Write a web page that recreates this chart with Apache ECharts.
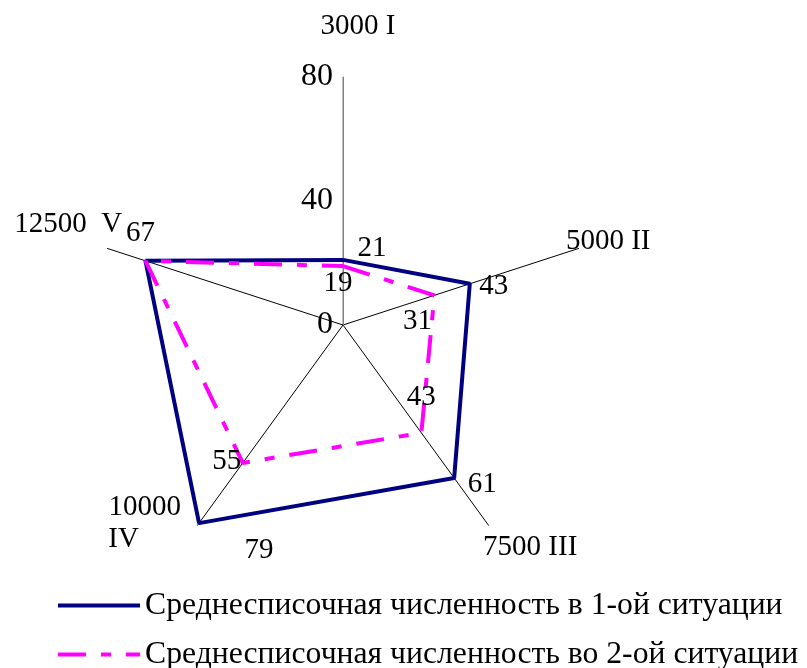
<!DOCTYPE html>
<html>
<head>
<meta charset="utf-8">
<script src="https://cdn.jsdelivr.net/npm/echarts@6/dist/echarts.min.js"></script>
<style>
  html, body { margin: 0; padding: 0; background: #fff; }
  #chart { width: 807px; height: 668px; }
</style>
</head>
<body>
<div id="chart"></div>
<script>
// Radar-like chart drawn on polar coordinates (per-point label placement)
var axisNames = ['3000 I', '5000 II', '7500 III', '10000\nIV', '12500  V'];
var axisAngles = [0, 72, 144, 216, 288];
var radiusTicks = [0, 40, 80];
var seriesNames = [
  'Среднесписочная численность в 1-ой ситуации',
  'Среднесписочная численность во 2-ой ситуации'
];
var situation1 = [21, 43, 61, 79, 67];
var situation2 = [19, 31, 43, 55, 67];

// label offsets from each point (styling only)
var offsets1 = [[29, -12], [24, 3], [28, 6], [60, 27], null];
var offsets2 = [[-5, 17], [-17, 26], [0, -35], [-16, -2], [-5, -27]];

// paddings [top, right, bottom, left] of the axis name lines
var namePads = {
  n0_0: [0, 0, 153, 30],
  n1_0: [0, 0, 39, 27],
  n2_0: [79, 0, 0, 19],
  n3_0: [0, 41, 0, 0],
  n3_1: [0, 83, 0, 0],
  n4_0: [0, 25, 73, 0]
};

var serif = '"Liberation Serif", "Times New Roman", serif';

function buildData(values, offsets) {
  var out = [];
  for (var i = 0; i < values.length; i++) {
    var item = { value: [values[i], axisAngles[i]] };
    if (offsets[i]) {
      item.label = { show: true, offset: offsets[i] };
    } else {
      item.label = { show: false };
    }
    out.push(item);
  }
  // close the polygon back to the first axis
  out.push({ value: [values[0], 360], label: { show: false } });
  return out;
}

var nameRich = {};
Object.keys(namePads).forEach(function (k) {
  nameRich[k] = { padding: namePads[k], lineHeight: 32, fontSize: 29, fontFamily: serif, color: '#000' };
});

var chartDom = document.getElementById('chart');
var myChart = echarts.init(chartDom);
var option;

option = {
  animation: false,
  backgroundColor: '#fff',
  polar: {
    center: [343, 325],
    radius: 248
  },
  angleAxis: {
    type: 'value',
    min: 0,
    max: 360,
    interval: 72,
    startAngle: 90,
    clockwise: true,
    axisLine: { show: false },
    axisTick: { show: false },
    splitLine: {
      show: true,
      lineStyle: { color: ['#808080', '#000', '#000', '#000', '#000', '#808080'], width: 1 }
    },
    axisLabel: {
      color: '#000',
      fontFamily: serif,
      fontSize: 29,
      margin: -42,
      formatter: function (v) {
        var idx = axisAngles.indexOf(v);
        if (idx < 0) return '';
        return axisNames[idx].split('\n').map(function (line, j) {
          return '{n' + idx + '_' + j + '|' + line + '}';
        }).join('\n');
      },
      rich: nameRich
    }
  },
  radiusAxis: {
    type: 'value',
    min: radiusTicks[0],
    max: radiusTicks[radiusTicks.length - 1],
    interval: radiusTicks[1] - radiusTicks[0],
    axisLine: { show: true, lineStyle: { color: '#808080', width: 1 } },
    axisTick: { show: false },
    splitLine: { show: false },
    axisLabel: {
      color: '#000',
      fontFamily: serif,
      fontSize: 32,
      margin: 10
    }
  },
  legend: {
    orient: 'vertical',
    left: 56,
    top: 589,
    height: 90,
    padding: 0,
    itemWidth: 82,
    itemHeight: 14,
    itemGap: 16,
    itemStyle: { opacity: 0 },
    lineStyle: { width: 4 },
    textStyle: {
      color: '#000',
      fontFamily: serif,
      fontSize: 31.7,
      lineHeight: 33
    },
    data: seriesNames
  },
  series: [
    {
      name: seriesNames[0],
      type: 'line',
      coordinateSystem: 'polar',
      symbol: 'circle',
      symbolSize: 1,
      color: '#000080',
      lineStyle: { color: '#000080', width: 4 },
      label: {
        position: 'inside',
        color: '#000',
        fontFamily: serif,
        fontSize: 29,
        formatter: function (p) { return p.value[0]; }
      },
      data: buildData(situation1, offsets1)
    },
    {
      name: seriesNames[1],
      type: 'line',
      coordinateSystem: 'polar',
      symbol: 'circle',
      symbolSize: 1,
      color: '#FF00FF',
      lineStyle: { color: '#FF00FF', width: 4, type: [28, 15, 10, 15] },
      label: {
        position: 'inside',
        color: '#000',
        fontFamily: serif,
        fontSize: 29,
        formatter: function (p) { return p.value[0]; }
      },
      data: buildData(situation2, offsets2)
    }
  ]
};

option && myChart.setOption(option);
</script>
</body>
</html>
